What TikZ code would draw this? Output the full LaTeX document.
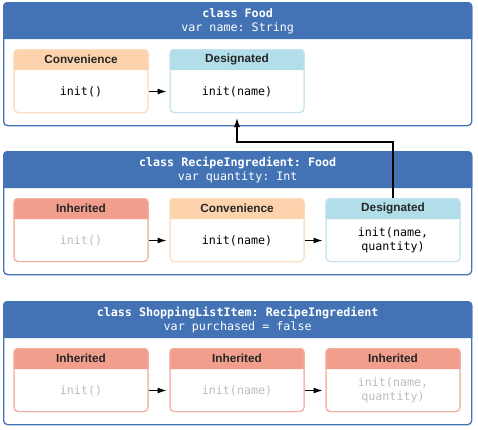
\documentclass[tikz,border=0pt]{standalone}
\usepackage{fontspec}
\setmainfont{Liberation Sans}
\setmonofont{DejaVu Sans Mono}
\usetikzlibrary{arrows.meta,calc}
\definecolor{hdrblue}{HTML}{4373B5}
\definecolor{convhdr}{HTML}{FCD3AD}
\definecolor{convbrd}{HTML}{FCDDC0}
\definecolor{deshdr}{HTML}{B2DEE9}
\definecolor{desbrd}{HTML}{C4E5EE}
\definecolor{inhhdr}{HTML}{F19F8C}
\definecolor{inhbrd}{HTML}{F3B0A1}
\definecolor{graytxt}{HTML}{BDBDBD}
\tikzset{
  classbox/.style={draw=hdrblue, line width=1.3pt, fill=white, rounded corners=4pt,
    minimum width=468pt, minimum height=123pt, inner sep=0pt},
  initbox/.style={draw=#1, line width=1pt, fill=white, rounded corners=4pt,
    minimum width=134pt, minimum height=63pt, inner sep=0pt},
  titletxt/.style={font=\fontsize{11.8}{13}\selectfont\bfseries, text=black!85},
  codetxt/.style={font=\fontsize{11.7}{14.5}\selectfont\ttfamily, align=center, text=#1},
  codetxt/.default=black,
  hdrtxt/.style={font=\fontsize{11.7}{15}\selectfont\ttfamily, text=white, align=center},
  flow/.style={line width=1.1pt, -{Latex[length=9pt,width=6pt]}},
}
% #1 name, #2 x-center, #3 y-top, #4 header colour, #5 border colour, #6 title, #7 code, #8 code colour
\newcommand\myinitbox[8]{%
  \node[initbox=#5, anchor=north] (#1) at (#2,#3) {};
  \fill[#4] ($(#1.north west)+(0,21)$) [rounded corners=4pt] -- (#1.north west) -- (#1.north east) [sharp corners] -- ($(#1.north east)+(0,21)$) -- cycle;
  \node[initbox=#5, anchor=north, fill=none] at (#2,#3) {};
  \node[titletxt] (#1-h) at ($(#1.north)+(0,10.5)$) {#6};
  \node[codetxt=#8] (#1-t) at ($(#1.south)+(0,-21.5)$) {#7};
}
% #1 name, #2 y-top, #3 class line, #4 var line
\newcommand\myclassbox[4]{%
  \node[classbox, anchor=north west] (#1) at (3,#2) {};
  \fill[hdrblue] ($(#1.north west)+(0,37)$) [rounded corners=4pt] -- (#1.north west) -- (#1.north east) [sharp corners] -- ($(#1.north east)+(0,37)$) -- cycle;
  \node[hdrtxt] (#1-h) at ($(#1.north)+(0,19)$) {\textbf{#3}\\[-1pt]#4};
}
\begin{document}
\begin{tikzpicture}[x=1pt,y=-1pt]
\useasboundingbox (0,0) rectangle (478,429);
% class Food
\myclassbox{food}{2}{class Food}{var name: String}
\myinitbox{fc}{81}{49}{convhdr}{convbrd}{Convenience}{init()}{black}
\myinitbox{fd}{237}{49}{deshdr}{desbrd}{Designated}{init(name)}{black}
% class RecipeIngredient
\myclassbox{ri}{151}{class RecipeIngredient: Food}{var quantity: Int}
\myinitbox{ri1}{81}{198}{inhhdr}{inhbrd}{Inherited}{init()}{graytxt}
\myinitbox{ri2}{237}{198}{convhdr}{convbrd}{Convenience}{init(name)}{black}
\myinitbox{ri3}{393}{198}{deshdr}{desbrd}{Designated}{init(name,\\quantity)}{black}
% class ShoppingListItem
\myclassbox{sl}{301}{class ShoppingListItem: RecipeIngredient}{var purchased = false}
\myinitbox{sl1}{81}{348}{inhhdr}{inhbrd}{Inherited}{init()}{graytxt}
\myinitbox{sl2}{237}{348}{inhhdr}{inhbrd}{Inherited}{init(name)}{graytxt}
\myinitbox{sl3}{393}{348}{inhhdr}{inhbrd}{Inherited}{init(name,\\quantity)}{graytxt}
% arrows
\draw[flow, shorten >=3pt] (fc-t -| fc.east) -- (fc-t -| fd.west);
\draw[flow, shorten >=3pt] (ri1-t -| ri1.east) -- (ri1-t -| ri2.west);
\draw[flow, shorten >=3pt] (ri2-t -| ri2.east) -- (ri2-t -| ri3.west);
\draw[flow, shorten >=3pt] (sl1-t -| sl1.east) -- (sl1-t -| sl2.west);
\draw[flow, shorten >=3pt] (sl2-t -| sl2.east) -- (sl2-t -| sl3.west);
\draw[flow, shorten >=5pt] (ri3.north) -- ++(0,-56) -| (fd.south);
\end{tikzpicture}
\end{document}
